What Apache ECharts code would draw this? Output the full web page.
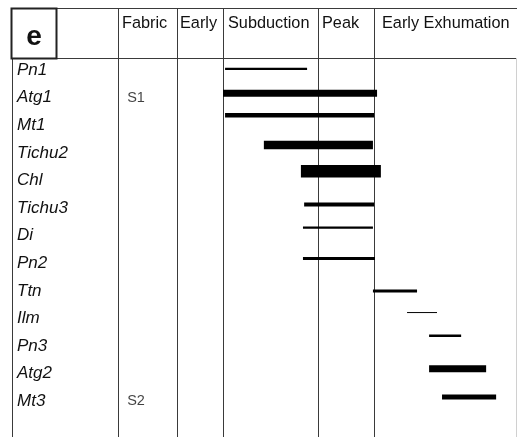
<!DOCTYPE html>
<html>
<head>
<meta charset="utf-8">
<script src="https://cdn.jsdelivr.net/npm/echarts@6/dist/echarts.min.js"></script>
<style>html,body{margin:0;padding:0;background:#fff}#c{width:517px;height:437px}</style>
</head>
<body>
<div id="c"></div>
<script>
// Mineral names (row labels)
var minerals = ['Pn1','Atg1','Mt1','Tichu2','Chl','Tichu3','Di','Pn2','Ttn','Ilm','Pn3','Atg2','Mt3'];
// Stage headers
var stages = ['Fabric','Early','Subduction','Peak','Early Exhumation'];
// Fabric labels and the row they sit on
var fabricNames = ['S1','S2'];
var fabricRows = [1, 12];
// Growth intervals on a relative timeline (0-100)
var startT = [0.7, 0.0, 0.7, 13.9, 26.5, 27.6, 27.2, 27.2, 51.0, 62.6, 70.1, 70.1, 74.5];
var endT   = [28.6, 52.4, 51.4, 51.0, 53.7, 51.4, 51.0, 51.7, 66.0, 72.8, 81.0, 89.5, 92.9];
// Vertical position of each bar (row units)
var barRow = [-0.04, 0.84, 1.64, 2.72, 3.67, 4.87, 5.71, 6.83, 8.01, 8.79, 9.63, 10.83, 11.85];
// Relative abundance (bar thickness)
var abundance = [2.3, 7, 4.6, 8.5, 12.7, 4, 2.3, 3, 3, 1, 2.5, 7, 4.8];

var chart = echarts.init(document.getElementById('c'));
var lineColor = '#3a3a3a';
var FONT = 'Liberation Sans, Arial, sans-serif';

var barData = minerals.map(function (m, i) {
  return [startT[i], endT[i], barRow[i], abundance[i], m];
});

var graphics = [];
function hline(x1, x2, y, w, c) {
  graphics.push({type:'line', shape:{x1:x1,y1:y,x2:x2,y2:y}, style:{stroke:c||lineColor, lineWidth:w||1}, silent:true});
}
function vline(x, y1, y2, w, c) {
  graphics.push({type:'line', shape:{x1:x,y1:y1,x2:x,y2:y2}, style:{stroke:c||lineColor, lineWidth:w||1}, silent:true});
}
hline(11, 517, 8.5);
hline(12, 517, 58.5);
vline(12.5, 58, 437);
[118.5, 177.5, 223.5, 318.5, 374.5].forEach(function (x) { vline(x, 8, 437); });
vline(516.5, 58, 437, 1, '#d0d0d0');
graphics.push({type:'rect', shape:{x:11.5, y:8.5, width:45, height:50}, style:{fill:'#fff', stroke:'#222', lineWidth:2}, silent:true});
graphics.push({type:'text', x:34, y:37, style:{text:'e', fontSize:28, fontWeight:'bold', fontFamily:FONT, fill:'#111', textAlign:'center', textVerticalAlign:'middle'}});
var headX = [122, 180, 228, 322, 382];
stages.forEach(function (s, i) {
  graphics.push({type:'text', x:headX[i], y:23.5, style:{text:s, fontSize:16.3, fontFamily:FONT, fill:'#111', textAlign:'left', textVerticalAlign:'middle'}});
});

var option = {
  backgroundColor: '#fff',
  animation: false,
  grid: [
    {left: 12, top: 56.2, width: 100, height: 358.8, containLabel: false},
    {left: 223, top: 58, width: 294, height: 379, containLabel: false}
  ],
  xAxis: [
    {gridIndex: 0, type: 'value', show: false, min: 0, max: 1},
    {gridIndex: 1, type: 'value', show: false, min: 0, max: 100}
  ],
  yAxis: [
    {gridIndex: 0, type: 'category', data: minerals, inverse: true,
     axisLine:{show:false}, axisTick:{show:false}, splitLine:{show:false},
     axisLabel:{inside:true, margin:5, align:'left', fontSize:17, fontStyle:'italic', fontFamily:FONT, color:'#111'}},
    {gridIndex: 1, type: 'value', show: false, inverse: true, min: -0.435, max: 13.3}
  ],
  series: [
    {
      type: 'scatter', xAxisIndex: 0, yAxisIndex: 0, symbolSize: 0,
      data: fabricRows.map(function (r, i) { return {value: [0, minerals[r]], name: fabricNames[i]}; }),
      label: {show: true, position: 'inside', formatter: function (p) { return p.name; },
              offset: [124, 0], align: 'center', fontSize: 14.5, fontFamily: FONT, color: '#111'}
    },
    {
      type: 'custom', xAxisIndex: 1, yAxisIndex: 1,
      data: barData,
      encode: {x: [0, 1], y: 2},
      renderItem: function (params, api) {
        var p1 = api.coord([api.value(0), api.value(2)]);
        var p2 = api.coord([api.value(1), api.value(2)]);
        var h = api.value(3);
        return {type: 'rect', shape: {x: p1[0], y: p1[1] - h / 2, width: p2[0] - p1[0], height: h},
                style: {fill: '#000'}};
      }
    }
  ],
  graphic: graphics
};
chart.setOption(option);
</script>
</body>
</html>
